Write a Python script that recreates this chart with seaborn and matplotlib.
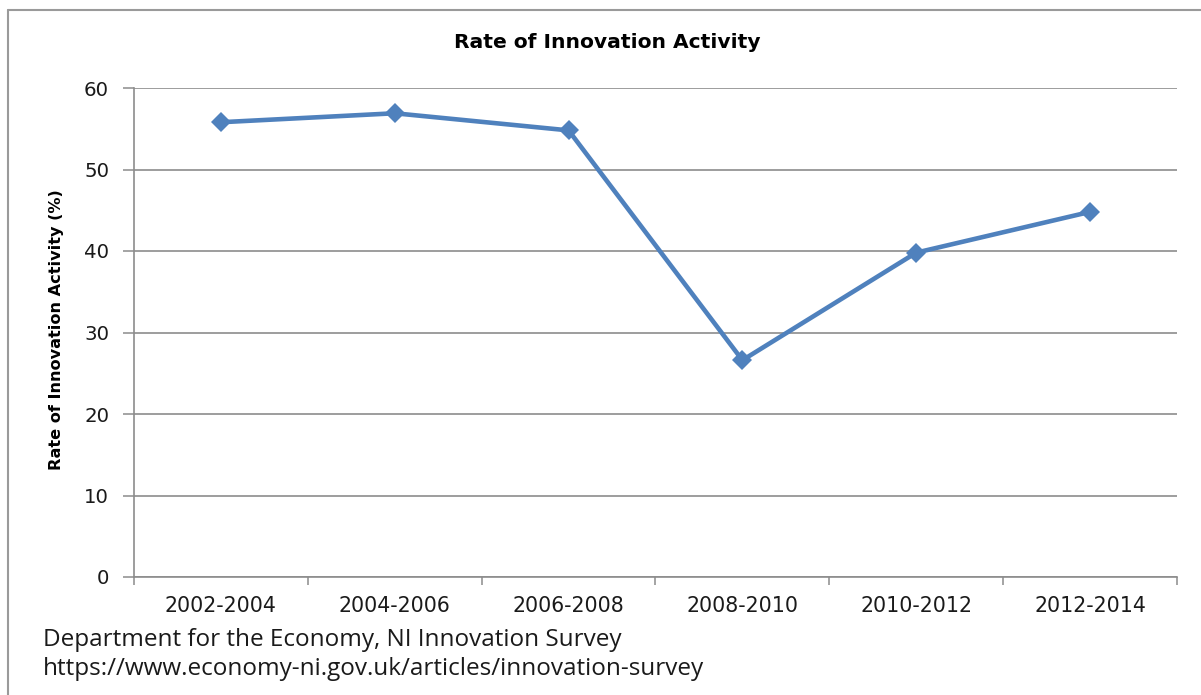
import matplotlib
matplotlib.use("Agg")
import matplotlib.pyplot as plt
from matplotlib.lines import Line2D
import seaborn as sns
import pandas as pd

periods = ["2002-2004", "2004-2006", "2006-2008", "2008-2010", "2010-2012", "2012-2014"]
rates = [55.8, 56.9, 54.8, 26.6, 39.8, 44.8]
y_ticks = [0, 10, 20, 30, 40, 50, 60]

title = "Rate of Innovation Activity"
y_label = "Rate of Innovation Activity (%)"
source_lines = ["Department for the Economy, NI Innovation Survey",
                "https://www.economy-ni.gov.uk/articles/innovation-survey"]

sns.set_theme(style="white")
plt.rcParams["font.family"] = ["DejaVu Sans"]

df = pd.DataFrame({"period": periods, "rate": rates})

W, H = 1201, 695
fig = plt.figure(figsize=(W / 100, H / 100), dpi=100)
ax = fig.add_axes([134 / W, 1 - 577 / H, (1177 - 134) / W, (577 - 88) / H])

line_color = "#4F81BD"
grid_color = "#8C8C8C"
text_color = "#1A1A1A"

sns.lineplot(data=df, x="period", y="rate", ax=ax, sort=False,
             color=line_color, linewidth=3.3, marker="D", markersize=10.5,
             markeredgecolor=line_color, markeredgewidth=0)

ax.set_xlim(-0.5, len(periods) - 0.5)
ax.set_ylim(0, 60)
ax.set_yticks(y_ticks)
ax.set_yticklabels([str(v) for v in y_ticks], fontsize=14.2, color=text_color)
ax.set_xticks(range(len(periods)))
ax.set_xticklabels(periods, fontsize=14.8, color=text_color)
ax.tick_params(axis="x", which="major", length=0, pad=14)
ax.set_xticks([i - 0.5 for i in range(len(periods) + 1)], minor=True)
ax.tick_params(axis="x", which="minor", length=5.5, width=1.1, color=grid_color,
               direction="out", bottom=True)
ax.tick_params(axis="y", which="major", length=8, width=1.1, color=grid_color,
               direction="out", left=True, pad=10)

ax.yaxis.grid(True, color=grid_color, linewidth=1.2)
ax.set_axisbelow(True)
for side in ["top", "right"]:
    ax.spines[side].set_visible(False)
for side in ["left", "bottom"]:
    ax.spines[side].set_color(grid_color)
    ax.spines[side].set_linewidth(1.2)

ax.set_xlabel("")
ax.set_ylabel(y_label, fontsize=11.6, fontweight="bold", color="black")
ax.yaxis.set_label_coords((64 - 134) / (1177 - 134), (577 - 330) / (577 - 88))

fig.text(607 / W, 1 - 42 / H, title, ha="center", va="center",
         fontsize=14.6, fontweight="bold", color="black")

fig.text(43 / W, 1 - 640 / H, source_lines[0], ha="left", va="center",
         fontsize=17.5, family="Open Sans", color=text_color)
fig.text(43 / W, 1 - 669 / H, source_lines[1], ha="left", va="center",
         fontsize=17.5, family="Open Sans", color=text_color)

# outer chart frame
frame_color = "#9A9A9A"
fig.add_artist(Line2D([8 / W, 8 / W], [0, 1 - 10 / H],
                      transform=fig.transFigure, color=frame_color, linewidth=1.5))
fig.add_artist(Line2D([8 / W, 1], [1 - 10 / H, 1 - 10 / H],
                      transform=fig.transFigure, color=frame_color, linewidth=1.5))

fig.savefig("out.png", dpi=100)
